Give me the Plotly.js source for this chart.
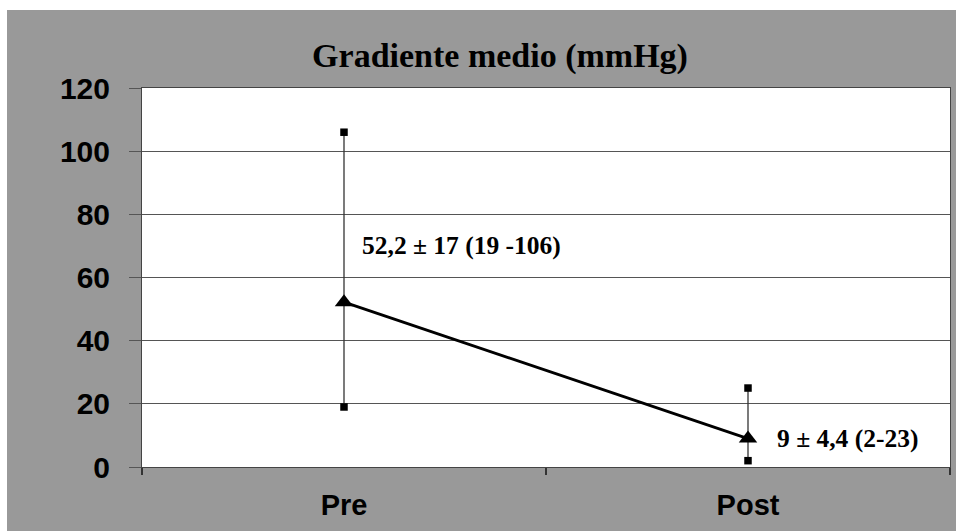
<!DOCTYPE html>
<html>
<head>
<meta charset="utf-8">
<script src="https://cdn.plot.ly/plotly-3.0.1.min.js"></script>
<style>
  html, body { margin: 0; padding: 0; background: #ffffff; width: 956px; height: 531px; overflow: hidden; }
  #chart { position: absolute; left: 7px; top: 10px; width: 949px; height: 521px; }
</style>
</head>
<body>
<div id="chart"></div>
<script>
// Data
const categories = ['Pre', 'Post'];
const means = [52.2, 9];
const lows = [19, 2];
const highs = [106, 25];
const labels = ['52,2 ± 17 (19 -106)', '9 ± 4,4 (2-23)'];
const labelY = [70, 9];
const yTicks = [0, 20, 40, 60, 80, 100, 120];

const errPlus = means.map((m, i) => highs[i] - m);
const errMinus = means.map((m, i) => m - lows[i]);

const traces = [
  {
    type: 'scatter', mode: 'lines+markers',
    x: categories, y: means,
    line: { color: '#000000', width: 2.8 },
    marker: { symbol: 'triangle-up', size: 16, color: '#000000' },
    error_y: {
      type: 'data', symmetric: false,
      array: errPlus, arrayminus: errMinus,
      color: '#333333', thickness: 1.3, width: 0
    },
    showlegend: false, hoverinfo: 'skip'
  },
  {
    type: 'scatter', mode: 'markers',
    x: categories.concat(categories), y: highs.concat(lows),
    marker: { symbol: 'square', size: 7.5, color: '#000000' },
    showlegend: false, hoverinfo: 'skip'
  }
];

const annotations = categories.map((c, i) => ({
  x: c, y: labelY[i], xref: 'x', yref: 'y',
  text: labels[i], showarrow: false,
  xanchor: 'left', yanchor: 'middle',
  xshift: i === 0 ? 16 : 27,
  font: { family: 'Liberation Serif, Times New Roman, serif', size: 25.5, color: '#000000', weight: 'bold' }
}));

const layout = {
  width: 949, height: 521,
  paper_bgcolor: '#999999',
  plot_bgcolor: '#ffffff',
  margin: { l: 135, r: 6, t: 78, b: 64 },
  title: {
    text: '<b>Gradiente medio (mmHg)</b>',
    xref: 'container', yref: 'container',
    x: 0.5195, y: 0.9136, xanchor: 'center', yanchor: 'middle',
    font: { family: 'Liberation Serif, Times New Roman, serif', size: 34, color: '#000000' }
  },
  xaxis: {
    type: 'category', range: [-0.5, 1.5],
    tickson: 'boundaries', ticks: 'outside', ticklen: 7, tickcolor: '#333333', tickwidth: 1.2,
    showline: true, linecolor: '#444444', linewidth: 1, mirror: true,
    showgrid: false, zeroline: false,
    ticklabelstandoff: 12,
    tickfont: { family: 'Liberation Sans, Arial, sans-serif', size: 29, color: '#000000', weight: 'bold' }
  },
  yaxis: {
    range: [0, 120], tickvals: yTicks, ticktext: yTicks.map(String),
    ticks: 'outside', ticklen: 12, tickcolor: '#555555', tickwidth: 1,
    showline: true, linecolor: '#444444', linewidth: 1, mirror: true,
    showgrid: true, gridcolor: '#555555', gridwidth: 1, zeroline: false,
    ticklabelstandoff: 13,
    tickfont: { family: 'Liberation Sans, Arial, sans-serif', size: 30, color: '#000000', weight: 'bold' }
  },
  annotations: annotations,
  showlegend: false
};

Plotly.newPlot('chart', traces, layout, { displayModeBar: false, staticPlot: true });
</script>
</body>
</html>
